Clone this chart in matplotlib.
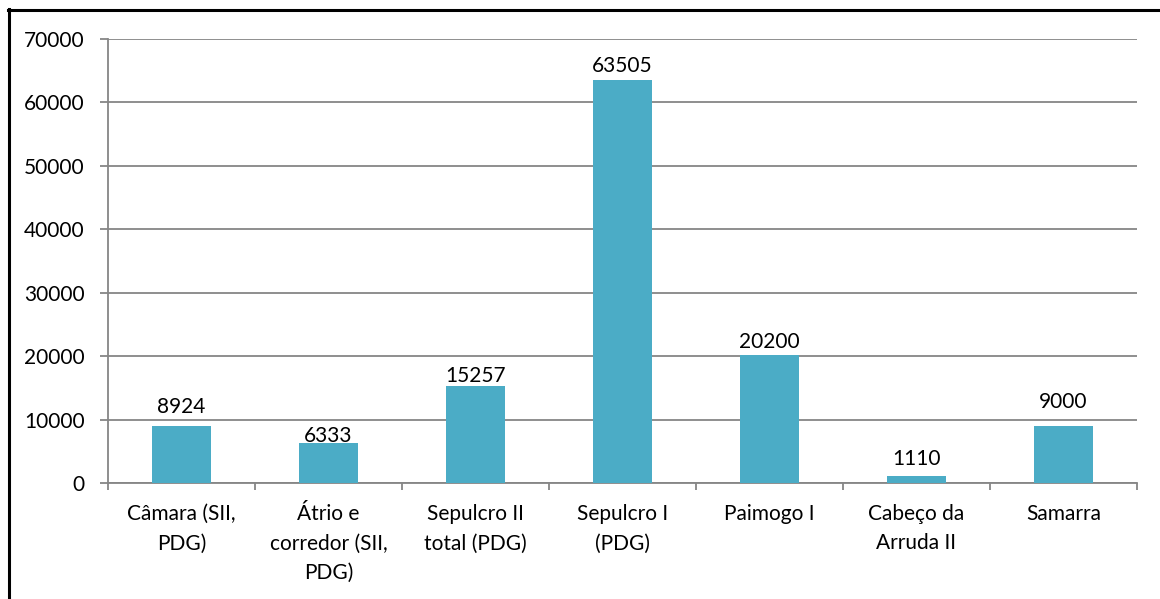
import matplotlib
matplotlib.use("Agg")
import matplotlib.pyplot as plt
import numpy as np
from matplotlib.lines import Line2D

categories = ["Câmara (SII,\nPDG)", "Átrio e\ncorredor (SII,\nPDG)", "Sepulcro II\ntotal (PDG)",
              "Sepulcro I\n(PDG)", "Paimogo I", "Cabeço da\nArruda II", "Samarra"]
values = [8924, 6333, 15257, 63505, 20200, 1110, 9000]
yticks = [0, 10000, 20000, 30000, 40000, 50000, 60000, 70000]

# gap (in pixels) between each bar top and the baseline of its value label
label_gaps_px = [13, 1, 4, 8, 7, 11, 18]

plt.rcParams['font.family'] = ['Lato', 'DejaVu Sans']
FS = 15

W, H = 1160, 599
fig = plt.figure(figsize=(W / 100, H / 100), dpi=100)
ax = fig.add_axes([108 / W, 1 - 483 / H, (1137 - 108) / W, (483 - 39) / H])

bar_color = "#4BACC6"
grid_color = "#868686"
x = np.arange(len(categories))
ax.bar(x, values, width=0.4, color=bar_color, zorder=3)

ax.set_xlim(-0.5, len(categories) - 0.5)
ax.set_ylim(0, 70000)
ax.set_yticks(yticks)
ax.set_yticklabels([str(v) for v in yticks], fontsize=FS)
ax.yaxis.grid(True, color=grid_color, linewidth=1.3, zorder=0)
ax.set_axisbelow(True)

for s in ["top", "right"]:
    ax.spines[s].set_visible(False)
for s in ["left", "bottom"]:
    ax.spines[s].set_color(grid_color)
    ax.spines[s].set_linewidth(1.3)

ax.tick_params(axis="y", length=5.8, width=1.3, color=grid_color, pad=11)
ax.set_xticks(np.arange(-0.5, len(categories), 1.0))
ax.set_xticklabels([])
ax.tick_params(axis="x", length=5, width=1.3, color=grid_color)
ax.set_xticks(x, minor=True)
ax.set_xticklabels(categories, minor=True, fontsize=FS, linespacing=1.6)
ax.tick_params(axis="x", which="minor", length=0, pad=15)

for xi, v, g in zip(x, values, label_gaps_px):
    ax.annotate(str(v), (xi, v), xytext=(0, g * 0.72), textcoords="offset points",
                ha="center", va="baseline", fontsize=FS)

# outer frame on left and top
fig.add_artist(Line2D([8.5 / W, 8.5 / W], [0, 1 - 8.5 / H], transform=fig.transFigure,
                      color="black", linewidth=2.2))
fig.add_artist(Line2D([7.5 / W, 1], [1 - 9.5 / H, 1 - 9.5 / H], transform=fig.transFigure,
                      color="black", linewidth=2.2))

fig.savefig("out.png", dpi=100, facecolor="white")
